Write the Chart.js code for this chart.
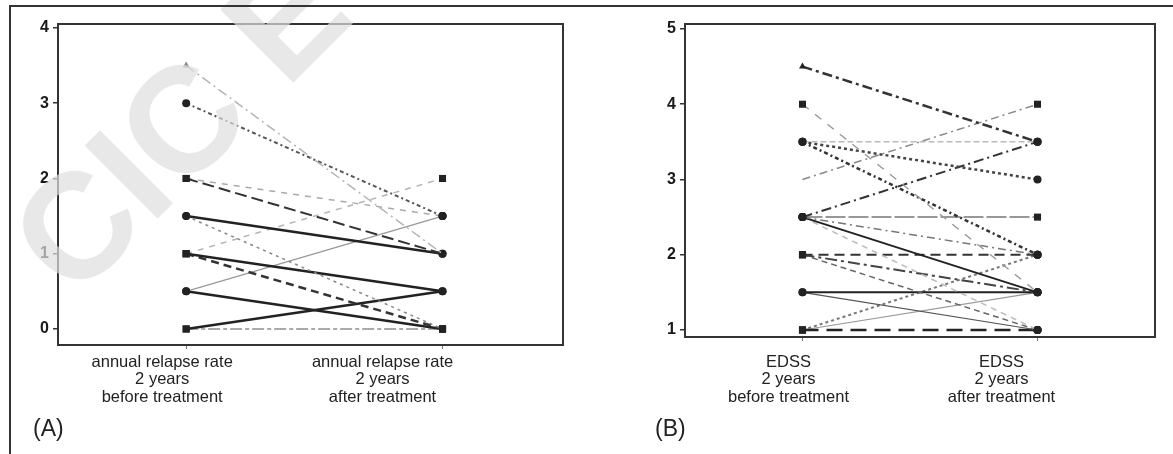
<!DOCTYPE html>
<html>
<head>
<meta charset="utf-8">
<script src="https://cdn.jsdelivr.net/npm/chart.js@4/dist/chart.umd.min.js"></script>
<style>
  html, body { margin: 0; padding: 0; background: #fff; }
  #fig { position: relative; width: 1173px; height: 454px; overflow: hidden; background: #fff; }
  #fig canvas { position: absolute; top: 0; }
  .rule { position: absolute; background: #333; }
</style>
</head>
<body>
<div id="fig">
  <canvas id="chartA" width="600" height="454" style="left:0"></canvas>
  <canvas id="chartB" width="573" height="454" style="left:600px"></canvas>
  <div class="rule" style="left:9px;top:5px;width:1164px;height:1.5px"></div>
  <div class="rule" style="left:9px;top:5px;width:1.5px;height:449px"></div>
</div>
<script>
// data: one line per patient, value before -> value after
const relapseLabels = [['annual relapse rate', '2 years', 'before treatment'], ['annual relapse rate', '2 years', 'after treatment']];
const relapseBefore = [3.5, 3, 2, 2, 1.5, 1.5, 1, 1, 1, 0.5, 0.5, 0, 0];
const relapseAfter  = [1, 1.5, 1, 1.5, 1, 0, 0.5, 0, 2, 1.5, 0, 0.5, 0];
const relapseTicks  = [0, 1, 2, 3, 4];

const edssLabels = [['EDSS', '2 years', 'before treatment'], ['EDSS', '2 years', 'after treatment']];
const edssBefore = [4.5, 4, 3.5, 3.5, 3.5, 3, 2.5, 2.5, 2.5, 2.5, 2.5, 2, 2, 2, 1.5, 1.5, 1, 1, 1];
const edssAfter  = [3.5, 1.5, 3.5, 3, 2, 4, 3.5, 2.5, 2, 1.5, 1, 2, 1.5, 1, 1.5, 1, 1, 2, 1.5];
const edssTicks  = [1, 2, 3, 4, 5];

// line looks: [colour, dash, width, left marker, right marker]
const relapseStyles = [
    ['#b5b5b5', [10, 4, 2, 4], 1.5, 'triangle', false],
    ['#555', [4, 3, 2, 3], 2, 'circle', 'circle'],
    ['#333', [12, 5], 2, 'rect', 'circle'],
    ['#aaa', [6, 6], 1.5, 'rect', 'circle'],
    ['#222', [], 2.5, 'circle', 'circle'],
    ['#888', [3, 4], 1.5, 'circle', 'rect'],
    ['#222', [], 2.5, 'rect', 'circle'],
    ['#333', [8, 5], 2.5, 'rect', 'rect'],
    ['#b5b5b5', [6, 6], 1.5, 'rect', 'rect'],
    ['#999', [], 1.2, 'circle', 'circle'],
    ['#222', [], 2.5, 'circle', 'rect'],
    ['#222', [], 2.5, 'rect', 'circle'],
    ['#aaa', [12, 3, 4, 3], 2, 'rect', 'rect']
];
const edssStyles = [
    ['#333', [10, 4, 3, 4], 2.5, 'triangle', 'circle'],
    ['#999', [8, 8], 1.5, 'rect', false],
    ['#bbb', [6, 3], 1.5, 'circle', 'circle'],
    ['#444', [3, 3], 2.5, 'circle', 'circle'],
    ['#333', [4, 3, 2, 3], 2.5, 'circle', 'circle'],
    ['#888', [8, 4, 2, 4], 1.5, false, 'rect'],
    ['#333', [10, 4, 2, 4], 2, 'circle', 'circle'],
    ['#777', [20, 3], 1.5, 'circle', 'rect'],
    ['#777', [8, 4, 2, 4], 1.5, 'circle', 'circle'],
    ['#222', [], 2, 'circle', 'circle'],
    ['#bbb', [6, 5], 1.5, 'circle', 'circle'],
    ['#333', [10, 6], 2, 'rect', 'circle'],
    ['#444', [12, 4, 3, 4], 2, 'rect', 'circle'],
    ['#666', [6, 4], 1.5, 'rect', 'circle'],
    ['#222', [], 2, 'circle', 'circle'],
    ['#555', [], 1.2, 'circle', 'circle'],
    ['#222', [16, 8], 2.5, 'rect', 'circle'],
    ['#777', [3, 3], 2, 'rect', 'circle'],
    ['#999', [], 1.2, 'rect', 'circle']
];

function buildDatasets(before, after, styles) {
    return before.map(function (b, i) {
        const s = styles[i];
        const markers = [s[3], s[4]];
        // the lone grey triangle in panel A
        const markerColour = (s[3] === 'triangle' && s[0] !== '#333') ? '#888' : '#222';
        return {
            data: [{ x: 0, y: b }, { x: 1, y: after[i] }],
            borderColor: s[0],
            borderDash: s[1],
            borderWidth: s[2],
            pointStyle: markers.map(m => m || 'circle'),
            pointRadius: markers.map(m => !m ? 0 : (m === 'rect' ? 5 : 4)),
            pointBackgroundColor: markerColour,
            pointBorderColor: markerColour,
            pointBorderWidth: 0,
            tension: 0
        };
    });
}

// frame around plot, category captions and panel letter
function panelPlugin(captions, captionShift, letter, letterX, watermark) {
    return {
        id: 'panel',
        afterDraw: function (chart) {
            const ctx = chart.ctx;
            const a = chart.chartArea;
            const xs = chart.scales.x;
            ctx.save();
            ctx.strokeStyle = '#333';
            ctx.lineWidth = 2;
            ctx.strokeRect(a.left, a.top, a.right - a.left, a.bottom - a.top);
            ctx.fillStyle = '#222';
            ctx.textAlign = 'center';
            ctx.textBaseline = 'middle';
            ctx.font = '16.5px "Liberation Sans", Arial, sans-serif';
            captions.forEach(function (lines, i) {
                const cx = xs.getPixelForValue(i) + captionShift[i];
                lines.forEach(function (t, k) {
                    ctx.fillText(t, cx, 362 + k * 17.8);
                });
            });
            ctx.textAlign = 'left';
            ctx.font = '23px "Liberation Sans", Arial, sans-serif';
            ctx.fillText(letter, letterX, 430);
            if (watermark) {
                ctx.translate(74, 302);
                ctx.rotate(-Math.PI / 4);
                ctx.fillStyle = 'rgba(222,222,222,0.7)';
                ctx.font = 'bold 150px "Liberation Sans", Arial, sans-serif';
                ctx.textBaseline = 'alphabetic';
                ctx.fillText('CIC E', 0, 0);
            }
            ctx.restore();
        }
    };
}

function makeChart(id, before, after, styles, yTicks, yMin, yMax, xMax, pad, captions, shift, letter, letterX, watermark) {
    const ctx = document.getElementById(id).getContext('2d');
    return new Chart(ctx, {
        type: 'line',
        data: { datasets: buildDatasets(before, after, styles) },
        options: {
            responsive: false,
            animation: false,
            devicePixelRatio: 1,
            layout: { padding: pad },
            plugins: { legend: { display: false }, tooltip: { enabled: false } },
            scales: {
                x: {
                    type: 'linear',
                    min: -0.5,
                    max: xMax,
                    afterBuildTicks: function (axis) { axis.ticks = [{ value: 0 }, { value: 1 }]; },
                    afterFit: function (axis) { axis.height = 8; },
                    ticks: { display: false },
                    grid: { drawOnChartArea: false, tickLength: 4, color: '#777', lineWidth: 1 },
                    border: { display: false }
                },
                y: {
                    min: yMin,
                    max: yMax,
                    afterBuildTicks: function (axis) { axis.ticks = yTicks.map(v => ({ value: v })); },
                    afterFit: function (axis) { axis.width = 30; },
                    ticks: {
                        padding: 4,
                        color: '#1a1a1a',
                        font: { family: '"Liberation Sans", Arial, sans-serif', size: 16, weight: 'bold' }
                    },
                    grid: { drawOnChartArea: false, tickLength: 5, color: '#333', lineWidth: 1.5 },
                    border: { display: false }
                }
            }
        },
        plugins: [panelPlugin(captions, shift, letter, letterX, watermark)]
    });
}

makeChart('chartA', relapseBefore, relapseAfter, relapseStyles, relapseTicks, -0.213, 4.053, 1.47,
    { left: 28, top: 24, right: 37, bottom: 101 }, relapseLabels, [-24, -60], '(A)', 33, true);
makeChart('chartB', edssBefore, edssAfter, edssStyles, edssTicks, 0.907, 5.066, 1.5,
    { left: 55, top: 24, right: 18, bottom: 109 }, edssLabels, [-14, -36], '(B)', 55, false);
</script>
</body>
</html>
